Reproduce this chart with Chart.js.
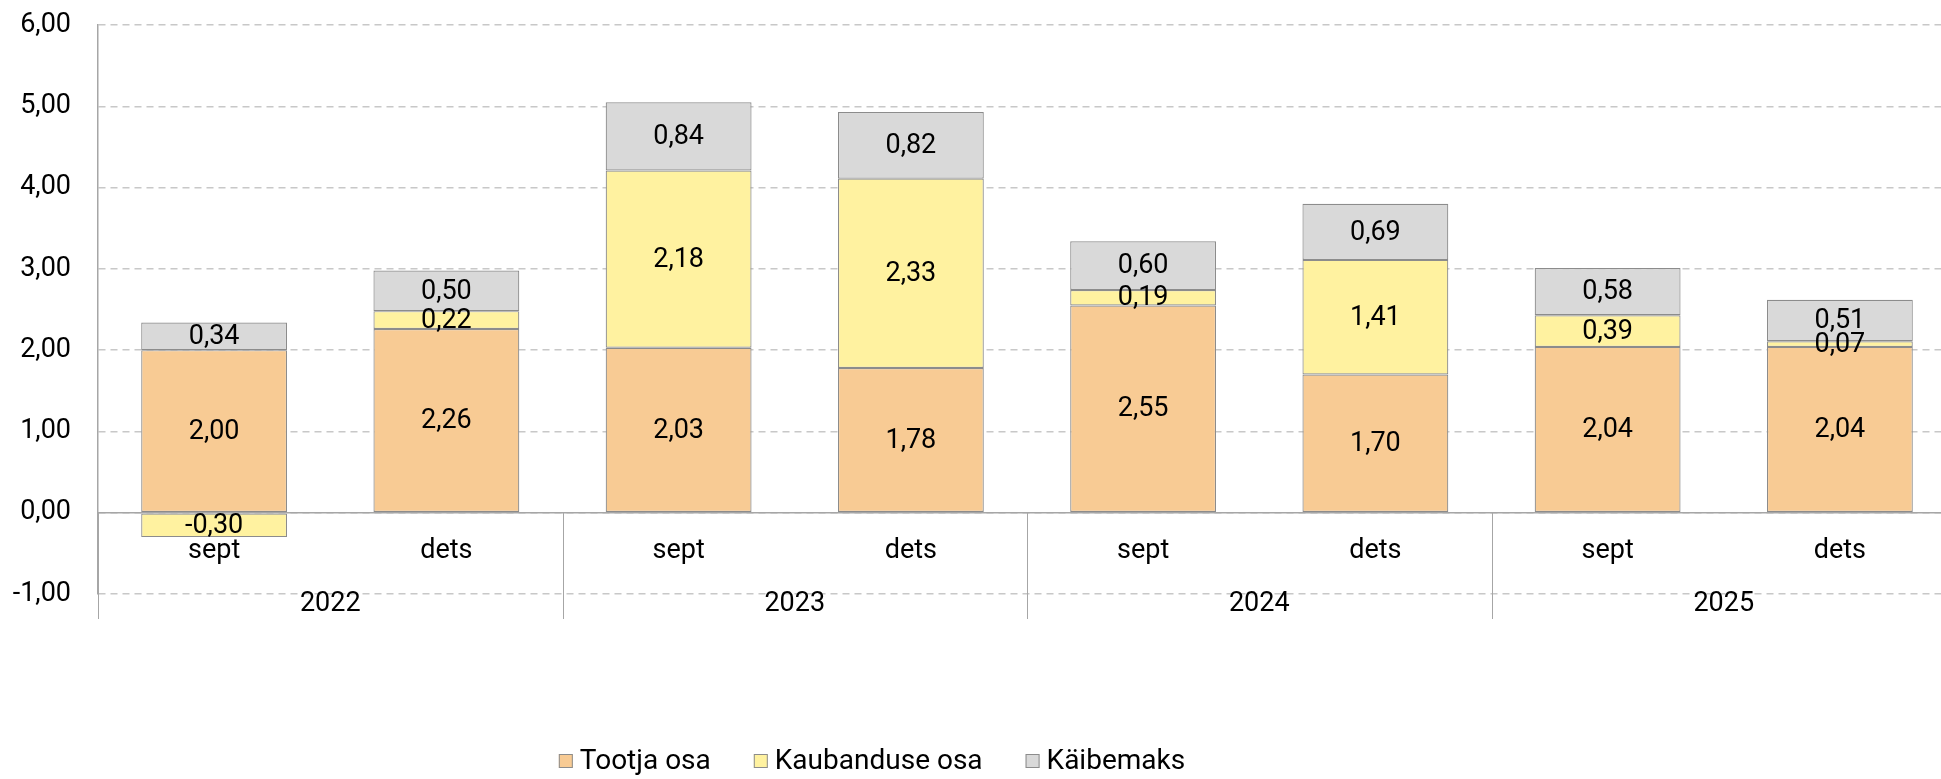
<!DOCTYPE html>
<html>
<head>
<meta charset="utf-8">
<title>Hinna komponendid</title>
<script src="https://cdn.jsdelivr.net/npm/chart.js@4.4.1/dist/chart.umd.min.js"></script>
<style>
  html, body { margin: 0; padding: 0; background: #fff; overflow: hidden; }
  #wrap { position: relative; width: 1960px; height: 779px; }
</style>
</head>
<body>
<div id="wrap"><canvas id="priceChart"></canvas></div>
<script>
// Data: price components per period
const months = ['sept', 'dets', 'sept', 'dets', 'sept', 'dets', 'sept', 'dets'];
const years = ['2022', '2023', '2024', '2025'];
const producerShare = [2.00, 2.26, 2.03, 1.78, 2.55, 1.70, 2.04, 2.04];
const tradeShare = [-0.30, 0.22, 2.18, 2.33, 0.19, 1.41, 0.39, 0.07];
const vatShare = [0.34, 0.50, 0.84, 0.82, 0.60, 0.69, 0.58, 0.51];
const seriesNames = ['Tootja osa', 'Kaubanduse osa', 'Käibemaks'];
const seriesColors = ['#f8cb94', '#fff2a0', '#d9d9d9'];
const yTicks = [-1, 0, 1, 2, 3, 4, 5, 6];

const FONT = 'Roboto';
const lineGrey = '#a6a6a6';
const fmt = v => v.toFixed(2).replace('.', ','); // Estonian decimal comma

// Draws the zero line, bar values, two-level category axis and the legend
const decorations = {
    id: 'decorations',
    afterDatasetsDraw(chart) {
        const { ctx, chartArea, scales: { x, y } } = chart;
        const y0 = y.getPixelForValue(0);
        const yLow = y.getPixelForValue(yTicks[0]);
        const half = (x.getPixelForValue(1) - x.getPixelForValue(0)) / 2;
        ctx.save();

        // solid zero line
        ctx.strokeStyle = lineGrey;
        ctx.lineWidth = 1.5;
        ctx.beginPath();
        ctx.moveTo(chartArea.left, y0);
        ctx.lineTo(chartArea.right, y0);
        ctx.stroke();

        // values in the middle of each segment
        ctx.fillStyle = '#000';
        ctx.textAlign = 'center';
        ctx.textBaseline = 'middle';
        ctx.font = '27px ' + FONT;
        chart.data.datasets.forEach((ds, di) => {
            chart.getDatasetMeta(di).data.forEach((bar, i) => {
                ctx.fillText(fmt(ds.data[i]), bar.x, (bar.y + bar.base) / 2 + 1);
            });
        });

        // year separators
        ctx.strokeStyle = lineGrey;
        ctx.lineWidth = 1;
        for (let g = 0; g <= years.length; g++) {
            const sx = Math.round(x.getPixelForValue(g * 2) - half) + 0.5;
            ctx.beginPath();
            ctx.moveTo(sx, y0);
            ctx.lineTo(sx, yLow + 25);
            ctx.stroke();
        }

        // month and year labels
        months.forEach((m, i) => {
            ctx.fillText(m, x.getPixelForValue(i), y0 + 39);
        });
        years.forEach((yr, g) => {
            const cx = (x.getPixelForValue(g * 2) + x.getPixelForValue(g * 2 + 1)) / 2;
            ctx.fillText(yr, cx, yLow + 10);
        });
        ctx.restore();
    },
    afterDraw(chart) {
        const { ctx } = chart;
        ctx.save();
        ctx.font = '28px ' + FONT;
        ctx.textBaseline = 'middle';
        const box = 14, boxGap = 7, itemGap = 43;
        const widths = seriesNames.map(n => ctx.measureText(n).width);
        const total = widths.reduce((a, w) => a + box + boxGap + w, 0) + itemGap * (seriesNames.length - 1);
        let lx = 872 - total / 2;
        const ly = 761;
        seriesNames.forEach((name, i) => {
            ctx.fillStyle = seriesColors[i];
            ctx.fillRect(lx, ly - box / 2, box, box);
            ctx.strokeStyle = '#8c8c8c';
            ctx.lineWidth = 1;
            ctx.strokeRect(lx + 0.5, ly - box / 2 + 0.5, box - 1, box - 1);
            ctx.fillStyle = '#000';
            ctx.fillText(name, lx + box + boxGap, ly + 1);
            lx += box + boxGap + widths[i] + itemGap;
        });
        ctx.restore();
    }
};

const seriesData = [producerShare, tradeShare, vatShare];

new Chart(document.getElementById('priceChart'), {
    type: 'bar',
    data: {
        labels: months.map((m, i) => years[Math.floor(i / 2)] + ' ' + m),
        datasets: seriesNames.map((name, i) => ({
            label: name,
            data: seriesData[i],
            backgroundColor: seriesColors[i],
            borderColor: '#8c8c8c',
            borderWidth: 1.2,
            borderSkipped: false,
            barPercentage: 0.628,
            categoryPercentage: 1
        }))
    },
    options: {
        responsive: true,
        maintainAspectRatio: false,
        animation: false,
        layout: { padding: { top: 25, right: 4, bottom: 185, left: 0 } },
        plugins: {
            legend: { display: false },
            tooltip: { enabled: false }
        },
        scales: {
            x: { stacked: true, display: false },
            y: {
                stacked: true,
                min: yTicks[0],
                max: yTicks[yTicks.length - 1],
                afterBuildTicks: s => { s.ticks = yTicks.map(v => ({ value: v })); },
                afterFit: s => {
                    s.width = 98;
                    // the tick padding is horizontal only; keep it off the top and bottom
                    s.paddingTop = 16;
                    s.paddingBottom = 16;
                },
                ticks: {
                    padding: 27,
                    color: '#000',
                    font: { family: FONT, size: 27 },
                    callback: v => fmt(v)
                },
                grid: { color: '#c8c8c8', lineWidth: 1.5, drawTicks: false },
                border: { display: true, color: lineGrey, width: 1.5, dash: [7, 5] }
            }
        }
    },
    plugins: [decorations]
});
</script>
</body>
</html>
